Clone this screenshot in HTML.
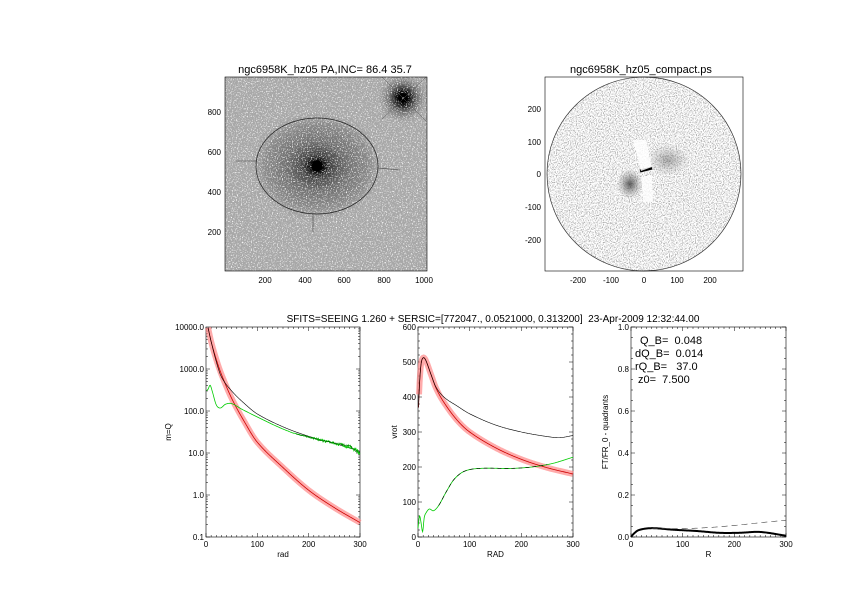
<!DOCTYPE html>
<html><head><meta charset="utf-8"><style>
html,body{margin:0;padding:0;background:#fff}
svg{display:block}
text{font-family:"Liberation Sans",sans-serif;fill:#000;white-space:pre}
</style></head><body>
<svg id="s" width="842" height="595" viewBox="0 0 842 595" xmlns="http://www.w3.org/2000/svg" xml:space="preserve">
<defs>
<filter id="wdots" x="0" y="0" width="100%" height="100%">
<feTurbulence type="fractalNoise" baseFrequency="0.8" numOctaves="2" seed="3"/>
<feColorMatrix type="matrix" values="0 0 0 0 1  0 0 0 0 1  0 0 0 0 1  4 0 0 0 -2.15" />
</filter>
<filter id="gdots" x="0" y="0" width="100%" height="100%">
<feTurbulence type="fractalNoise" baseFrequency="0.85" numOctaves="2" seed="9"/>
<feColorMatrix type="matrix" values="0 0 0 0 0.4  0 0 0 0 0.4  0 0 0 0 0.4  4 0 0 0 -1.85" />
</filter>
<radialGradient id="gal" cx="0.5" cy="0.5" r="0.5">
<stop offset="0" stop-color="#000"/>
<stop offset="0.1" stop-color="#0a0a0a"/>
<stop offset="0.2" stop-color="#444"/>
<stop offset="0.45" stop-color="#707070"/>
<stop offset="0.8" stop-color="#8c8c8c"/>
<stop offset="1" stop-color="#9a9a9a" stop-opacity="0"/>
</radialGradient>
<radialGradient id="star" cx="0.5" cy="0.5" r="0.5">
<stop offset="0" stop-color="#000"/>
<stop offset="0.25" stop-color="#111"/>
<stop offset="0.5" stop-color="#666"/>
<stop offset="1" stop-color="#999" stop-opacity="0"/>
</radialGradient>
<radialGradient id="cen" cx="0.5" cy="0.5" r="0.5">
<stop offset="0" stop-color="#333"/>
<stop offset="1" stop-color="#777" stop-opacity="0"/>
</radialGradient>
<clipPath id="c1"><rect x="225" y="77" width="202" height="194"/></clipPath>
<clipPath id="c2"><circle cx="644" cy="174" r="97"/></clipPath>
</defs>

<!-- top-left image -->
<g clip-path="url(#c1)">
<rect x="225" y="77" width="202" height="194" fill="#a8a8a8"/>
<ellipse cx="317" cy="166" rx="66" ry="54" fill="url(#gal)"/>
<circle cx="403" cy="98" r="26" fill="url(#star)"/>
<rect x="225" y="77" width="202" height="194" fill="#fff" filter="url(#wdots)"/>
<circle cx="317" cy="166" r="5.5" fill="#000"/>
<circle cx="403" cy="98" r="5" fill="#000"/>
<circle cx="403" cy="98" r="0.8" fill="#fff"/>
<path d="M382 119 L426 77 M382 77 L426 121" stroke="#555" stroke-width="0.5"/>
</g>
<ellipse cx="317" cy="166" rx="61" ry="48" fill="none" stroke="#222" stroke-width="0.7"/>
<path d="M236 161 L256 161 M378 168 L400 170 M313 214 L313 232" stroke="#444" stroke-width="0.6"/>
<rect x="225" y="77" width="202" height="194" fill="none" stroke="#000" stroke-width="0.6"/>
<text x="325" y="73" font-size="11" text-anchor="middle">ngc6958K_hz05 PA,INC= 86.4 35.7</text>
<g font-size="8" text-anchor="middle">
<text x="265" y="283">200</text><text x="305" y="283">400</text><text x="344" y="283">600</text><text x="384" y="283">800</text><text x="424" y="283">1000</text>
</g>
<g font-size="8" text-anchor="end">
<text x="221" y="115">800</text><text x="221" y="155">600</text><text x="221" y="195">400</text><text x="221" y="235">200</text>
</g>

<!-- top-right -->
<g clip-path="url(#c2)">
<circle cx="644" cy="174" r="97" fill="#fff"/>
<circle cx="644" cy="174" r="97" fill="#000" filter="url(#gdots)"/>
<ellipse cx="630" cy="184" rx="13" ry="15" fill="url(#cen)" opacity="0.8"/>
<ellipse cx="668" cy="160" rx="22" ry="16" fill="url(#cen)" opacity="0.4"/>
<path d="M640 171 L652 168" stroke="#000" stroke-width="3"/>
<polygon points="633,140 646,140 652,167 641,171" fill="#fff" opacity="0.85"/>
<polygon points="641,177 652,175 653,202 643,202" fill="#fff" opacity="0.8"/>
</g>
<circle cx="644" cy="174" r="97" fill="none" stroke="#333" stroke-width="0.7"/>
<rect x="545" y="77" width="198" height="194" fill="none" stroke="#000" stroke-width="0.6"/>
<text x="641" y="73" font-size="11" text-anchor="middle">ngc6958K_hz05_compact.ps</text>
<g font-size="8" text-anchor="middle">
<text x="578" y="283">-200</text><text x="611" y="283">-100</text><text x="644" y="283">0</text><text x="677" y="283">100</text><text x="710" y="283">200</text>
</g>
<g font-size="8" text-anchor="end">
<text x="541" y="112">200</text><text x="541" y="145">100</text><text x="541" y="177">0</text><text x="541" y="210">-100</text><text x="541" y="243">-200</text>
</g>

<text x="493" y="322" font-size="10" text-anchor="middle">SFITS=SEEING 1.260 + SERSIC=[772047., 0.0521000, 0.313200]  23-Apr-2009 12:32:44.00</text>

<g id="plots"></g>
</svg>
<script>
const g=document.getElementById('plots');
function add(s){g.insertAdjacentHTML('beforeend',s);}
function interp(pts,r,log){
 const f=v=>log?Math.log(v):v, fi=v=>log?Math.exp(v):v;
 const n=pts.length;
 for(let i=0;i<n-1;i++){const a=pts[i],b=pts[i+1];
  if(r<=b[0]||i==n-2){const t=Math.min(1,Math.max(0,(r-a[0])/(b[0]-a[0])));
   const p0=f(a[1]),p1=f(b[1]);
   const h=b[0]-a[0];
   const m0=i>0?(f(b[1])-f(pts[i-1][1]))/(b[0]-pts[i-1][0])*h:(p1-p0);
   const m1=i<n-2?(f(pts[i+2][1])-p0)/(pts[i+2][0]-a[0])*h:(p1-p0);
   const t2=t*t,t3=t2*t;
   return fi((2*t3-3*t2+1)*p0+(t3-2*t2+t)*m0+(-2*t3+3*t2)*p1+(t3-t2)*m1);}}
 return pts[n-1][1];}
let seed=1;function rnd(){seed=(seed*16807)%2147483647;return seed/2147483647-0.5;}
function path(pts,X,Y,log,r0,r1,step,noise){let d='';
 for(let r=r0;r<=r1+1e-9;r+=step){let v=interp(pts,r,log);
  if(noise&&r>150){v*=1+noise*rnd()*(r-150)/150;}
  d+=(d?'L':'M')+X(r).toFixed(2)+' '+Y(v).toFixed(2);}
 return d;}
function frame(x0,x1,y0,y1){
 add(`<rect x="${x0}" y="${y0}" width="${x1-x0}" height="${y1-y0}" fill="none" stroke="#000" stroke-width="0.6"/>`);}
// panel 1
(function(){const x0=206,x1=360,yt=327,yb=537;
 const X=r=>x0+r*(x1-x0)/300, Y=v=>yb-(Math.log10(v)+1)*42;
 frame(x0,x1,yt,yb);
 let t='';
 for(let e=-1;e<4;e++)for(let k=1;k<10;k++){const y=Y(k*Math.pow(10,e));const L=k==1?4:2;t+=`M${x0} ${y}h${L}M${x1} ${y}h-${L}`;}
 for(let r=0;r<=300;r+=10){const L=r%100==0?4:2;t+=`M${X(r)} ${yb}v-${L}M${X(r)} ${yt}v${L}`;}
 add(`<path d="${t}" stroke="#000" stroke-width="0.5" fill="none"/>`);
 const lab=['0.1','1.0','10.0','100.0','1000.0','10000.0'];
 lab.forEach((l,i)=>add(`<text x="${x0-2}" y="${Y(Math.pow(10,i-1))+3}" font-size="8" text-anchor="end">${l}</text>`));
 [0,100,200,300].forEach(r=>add(`<text x="${X(r)}" y="${yb+10}" font-size="8" text-anchor="middle">${r}</text>`));
 add(`<text x="${(x0+x1)/2}" y="${yb+20}" font-size="8" text-anchor="middle">rad</text>`);
 add(`<text x="171" y="432" font-size="8" text-anchor="middle" transform="rotate(-90 171 432)">m=Q</text>`);
 const red=[[3,11000],[10,4500],[20,1700],[30,750],[50,200],[75,55],[100,18],[150,4.5],[200,1.3],[250,0.5],[300,0.22]];
 const blk=[[3,11000],[10,4500],[20,1500],[30,650],[50,300],[75,150],[100,85],[150,42],[200,25],[250,17],[300,11]];
 const grn=[[0,300],[4,330],[8,410],[12,300],[20,140],[28,118],[38,145],[50,150],[70,110],[100,72],[140,42],[170,30],[200,24],[250,17],[280,14],[290,12],[300,10]];
 add(`<path d="${path(red,X,Y,true,4,300,1)}" stroke="#f88" stroke-opacity="0.7" stroke-width="6" fill="none"/>`);
 add(`<path d="${path(red,X,Y,true,4,300,1)}" stroke="#c00" stroke-width="0.8" fill="none"/>`);
 add(`<path d="${path(blk,X,Y,true,4,300,1)}" stroke="#000" stroke-width="0.6" fill="none"/>`);
 add(`<path d="${path(grn,X,Y,true,1,300,1,0.25)}" stroke="#0c0" stroke-width="0.8" fill="none"/>`);
 add(`<path d="${path(grn,X,Y,true,175,300,2,0.2)}" stroke="#060" stroke-width="0.6" fill="none"/>`);
})();
// panel 2
(function(){const x0=418,x1=573,yt=327,yb=537;
 const X=r=>x0+r*(x1-x0)/300, Y=v=>yb-v*(yb-yt)/600;
 frame(x0,x1,yt,yb);
 let t='';
 for(let v=0;v<=600;v+=20){const L=v%100==0?4:2;t+=`M${x0} ${Y(v)}h${L}M${x1} ${Y(v)}h-${L}`;}
 for(let r=0;r<=300;r+=10){const L=r%100==0?4:2;t+=`M${X(r)} ${yb}v-${L}M${X(r)} ${yt}v${L}`;}
 add(`<path d="${t}" stroke="#000" stroke-width="0.5" fill="none"/>`);
 for(let v=0;v<=600;v+=100)add(`<text x="${x0-2}" y="${Y(v)+3}" font-size="8" text-anchor="end">${v}</text>`);
 [0,100,200,300].forEach(r=>add(`<text x="${X(r)}" y="${yb+10}" font-size="8" text-anchor="middle">${r}</text>`));
 add(`<text x="${(x0+x1)/2}" y="${yb+20}" font-size="8" text-anchor="middle">RAD</text>`);
 add(`<text x="397" y="432" font-size="8" text-anchor="middle" transform="rotate(-90 397 432)">vrot</text>`);
 const red=[[1,370],[3,440],[6,495],[10,512],[15,505],[25,465],[35,425],[50,385],[75,335],[100,300],[150,255],[200,222],[250,198],[300,180]];
 const blk=[[1,370],[3,440],[6,495],[10,512],[15,505],[25,465],[35,428],[50,400],[75,375],[100,352],[150,320],[200,300],[250,287],[275,284],[300,290]];
 const grn=[[0,25],[3,60],[6,40],[9,15],[12,55],[16,70],[22,80],[30,75],[40,90],[55,130],[70,165],[90,188],[120,196],[180,196],[220,200],[260,210],[300,228]];
 add(`<path d="${path(red,X,Y,false,2,300,1)}" stroke="#f88" stroke-opacity="0.7" stroke-width="6" fill="none"/>`);
 add(`<path d="${path(red,X,Y,false,1,300,1)}" stroke="#c00" stroke-width="0.8" fill="none"/>`);
 add(`<path d="${path(blk,X,Y,false,1,300,1)}" stroke="#000" stroke-width="0.6" fill="none"/>`);
 add(`<path d="${path(grn,X,Y,false,0,300,1)}" stroke="#0c0" stroke-width="0.8" fill="none"/>`);
 add(`<path d="${path(grn,X,Y,false,40,250,1)}" stroke="#000" stroke-width="0.6" stroke-dasharray="4 3" fill="none"/>`);
})();
// panel 3
(function(){const x0=631,x1=786,yt=327,yb=537;
 const X=r=>x0+r*(x1-x0)/300, Y=v=>yb-v*(yb-yt);
 frame(x0,x1,yt,yb);
 let t='';
 for(let v=0;v<=1.0001;v+=0.05){const L=Math.round(v*100)%20==0?4:2;t+=`M${x0} ${Y(v)}h${L}M${x1} ${Y(v)}h-${L}`;}
 for(let r=0;r<=300;r+=10){const L=r%100==0?4:2;t+=`M${X(r)} ${yb}v-${L}M${X(r)} ${yt}v${L}`;}
 add(`<path d="${t}" stroke="#000" stroke-width="0.5" fill="none"/>`);
 for(let i=0;i<=5;i++){const v=i*0.2;add(`<text x="${x0-2}" y="${Y(v)+3}" font-size="8" text-anchor="end">${v.toFixed(1)}</text>`);}
 [0,100,200,300].forEach(r=>add(`<text x="${X(r)}" y="${yb+10}" font-size="8" text-anchor="middle">${r}</text>`));
 add(`<text x="${(x0+x1)/2}" y="${yb+20}" font-size="8" text-anchor="middle">R</text>`);
 add(`<text x="608" y="432" font-size="8" text-anchor="middle" transform="rotate(-90 608 432)">FT/FR_0 - quadrants</text>`);
 add(`<text x="640" y="344" font-size="11">Q_B=  0.048</text>`);
 add(`<text x="635" y="357" font-size="11">dQ_B=  0.014</text>`);
 add(`<text x="635" y="370" font-size="11">rQ_B=   37.0</text>`);
 add(`<text x="638" y="383" font-size="11">z0=  7.500</text>`);
 const sol=[[0,0],[5,0.015],[15,0.033],[40,0.042],[80,0.035],[130,0.028],[170,0.02],[210,0.02],[250,0.024],[300,0.006]];
 const das=[[40,0.04],[100,0.04],[150,0.045],[200,0.055],[250,0.068],[300,0.08]];
 add(`<path d="${path(sol,X,Y,false,0,300,2)}" stroke="#000" stroke-width="2" fill="none"/>`);
 add(`<path d="${path(das,X,Y,false,40,300,2)}" stroke="#444" stroke-width="0.6" stroke-dasharray="6 4" fill="none"/>`);
})();
</script>
</body></html>
